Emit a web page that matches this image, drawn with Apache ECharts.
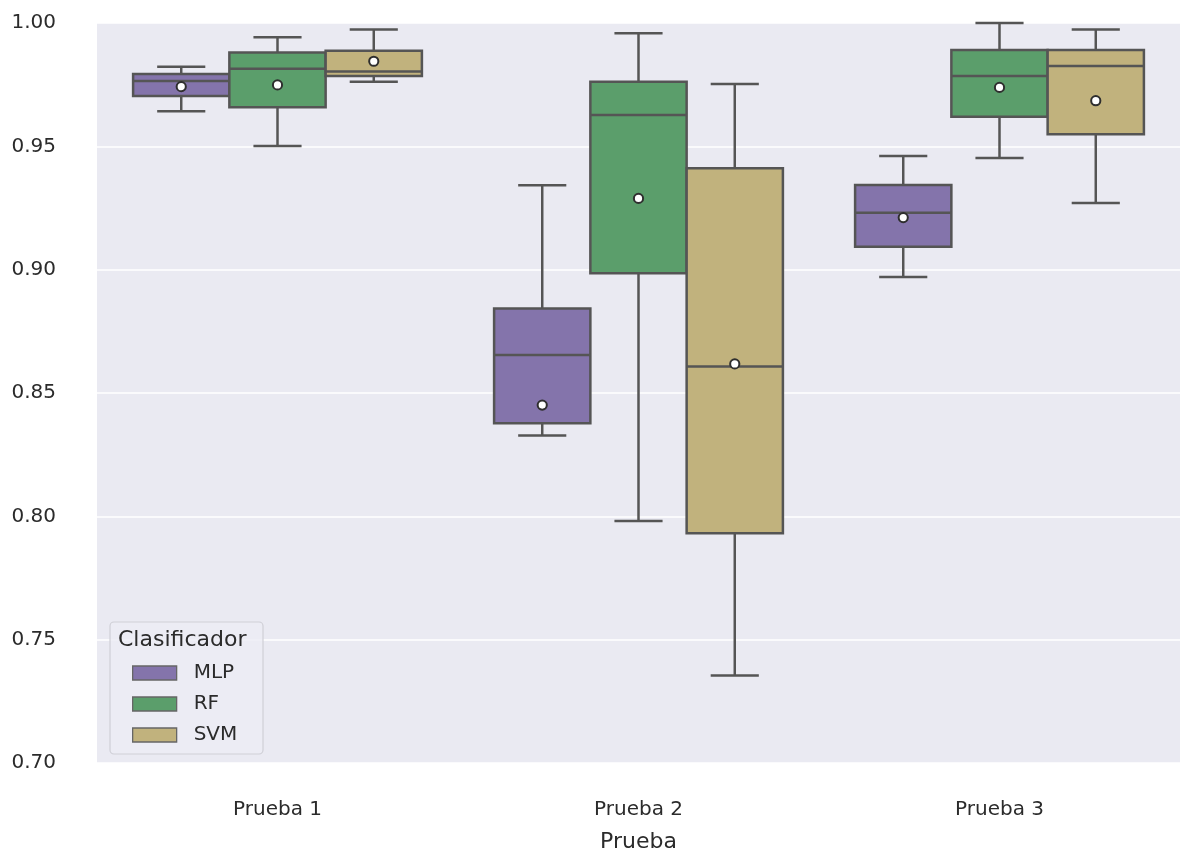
<!DOCTYPE html>
<html>
<head>
<meta charset="utf-8">
<title>Clasificador por prueba</title>
<script src="https://cdn.jsdelivr.net/npm/echarts@6/dist/echarts.min.js"></script>
<style>
  html, body { margin: 0; padding: 0; background: #ffffff; }
  #chart { width: 1181px; height: 850px; }
</style>
</head>
<body>
<div id="chart"></div>
<script>
// Test groups on the x axis and classifiers drawn side by side in each group
const categories = ['Prueba 1', 'Prueba 2', 'Prueba 3'];
const classifiers = ['MLP', 'RF', 'SVM'];
const classifierColors = ['#8474ab', '#5b9e6b', '#c1b27d'];

// Five-number summaries per test: [min, q1, median, q3, max]
const mlpStats = [
  [0.9642, 0.9704, 0.9765, 0.9793, 0.9823],
  [0.8328, 0.8377, 0.8654, 0.8843, 0.9342],
  [0.8970, 0.9093, 0.9231, 0.9343, 0.9461]
];
const rfStats = [
  [0.9501, 0.9658, 0.9815, 0.9880, 0.9942],
  [0.7981, 0.8985, 0.9627, 0.9762, 0.9958],
  [0.9453, 0.9620, 0.9785, 0.9891, 1.0000]
];
const svmStats = [
  [0.9762, 0.9785, 0.9803, 0.9888, 0.9974],
  [0.7355, 0.7931, 0.8607, 0.9411, 0.9753],
  [0.9270, 0.9549, 0.9826, 0.9891, 0.9974]
];

// Mean accuracy per test
const mlpMeans = [0.9742, 0.8451, 0.9211];
const rfMeans = [0.9749, 0.9289, 0.9739];
const svmMeans = [0.9845, 0.8618, 0.9685];

// Y axis ticks
const yTicks = [0.70, 0.75, 0.80, 0.85, 0.90, 0.95, 1.00];

const statsBySeries = [mlpStats, rfStats, svmStats];
const meansBySeries = [mlpMeans, rfMeans, svmMeans];

const EDGE = '#555555';
const TEXT = '#2b2b2b';
const FONT = 'DejaVu Sans';

function buildRows(stats, means) {
  return stats.map((s, i) => [i, s[0], s[1], s[2], s[3], s[4], means[i]]);
}

function renderBox(params, api) {
  const cat = api.value(0);
  const band = api.size([1, 0])[0];
  const boxW = band * 0.8 / classifiers.length;
  const cx = api.coord([cat, 0])[0] + (params.seriesIndex - 1) * boxW;
  const y = (i) => api.coord([cat, api.value(i)])[1];
  const yMin = y(1), yQ1 = y(2), yMed = y(3), yQ3 = y(4), yMax = y(5), yMean = y(6);
  const half = boxW / 2;
  const cap = boxW / 4;
  const lw = 2.5;
  const lineStyle = { stroke: EDGE, lineWidth: lw };
  const fill = api.visual('color');
  return {
    type: 'group',
    children: [
      { type: 'line', shape: { x1: cx, y1: yQ3, x2: cx, y2: yMax }, style: lineStyle },
      { type: 'line', shape: { x1: cx, y1: yQ1, x2: cx, y2: yMin }, style: lineStyle },
      { type: 'line', shape: { x1: cx - cap, y1: yMax, x2: cx + cap, y2: yMax }, style: lineStyle },
      { type: 'line', shape: { x1: cx - cap, y1: yMin, x2: cx + cap, y2: yMin }, style: lineStyle },
      { type: 'rect', shape: { x: cx - half, y: yQ3, width: boxW, height: yQ1 - yQ3 },
        style: { fill: fill, stroke: EDGE, lineWidth: lw } },
      { type: 'line', shape: { x1: cx - half, y1: yMed, x2: cx + half, y2: yMed }, style: lineStyle },
      { type: 'circle', shape: { cx: cx, cy: yMean, r: 4.6 },
        style: { fill: '#ffffff', stroke: '#2e2e2e', lineWidth: 2 } }
    ]
  };
}

const series = classifiers.map((name, k) => ({
  name: name,
  type: 'custom',
  renderItem: renderBox,
  itemStyle: { color: classifierColors[k] },
  encode: { x: 0, y: [1, 2, 3, 4, 5, 6] },
  data: buildRows(statsBySeries[k], meansBySeries[k]),
  z: 3
}));

const chart = echarts.init(document.getElementById('chart'), null, { renderer: 'canvas' });

chart.setOption({
  backgroundColor: '#ffffff',
  animation: false,
  textStyle: { fontFamily: FONT },
  grid: {
    left: 97, right: 1, top: 23, bottom: 87,
    show: true, backgroundColor: '#eaeaf2', borderWidth: 0,
    containLabel: false, outerBoundsMode: 'none'
  },
  xAxis: {
    type: 'category',
    data: categories,
    name: 'Prueba',
    nameLocation: 'middle',
    nameGap: 68,
    nameTextStyle: { fontSize: 22, color: TEXT, fontFamily: FONT },
    axisLine: { show: false },
    axisTick: { show: false },
    splitLine: { show: false },
    axisLabel: { fontSize: 20, color: TEXT, margin: 37, fontFamily: FONT }
  },
  yAxis: {
    type: 'value',
    min: yTicks[0],
    max: yTicks[yTicks.length - 1],
    interval: 0.05,
    axisLine: { show: false },
    axisTick: { show: false },
    splitLine: { show: true, lineStyle: { color: '#ffffff', width: 1.6 } },
    axisLabel: {
      fontSize: 20, color: TEXT, margin: 41, fontFamily: FONT,
      formatter: (v) => v.toFixed(2)
    }
  },
  legend: {
    orient: 'vertical',
    left: 132,
    top: 663,
    padding: 0,
    z: 60,
    zlevel: 0,
    itemWidth: 44,
    itemHeight: 14,
    itemGap: 11,
    selectedMode: false,
    textStyle: { fontSize: 20, color: TEXT, fontFamily: FONT, lineHeight: 20, padding: [0, 0, 0, 12] },
    data: classifiers.map((name, k) => ({
      name: name,
      icon: 'rect',
      itemStyle: { color: classifierColors[k], borderColor: '#666666', borderWidth: 1.3 }
    }))
  },
  graphic: [
    {
      type: 'rect',
      z: 20,
      shape: { x: 110, y: 622, width: 153, height: 132, r: 4 },
      style: { fill: 'rgba(236,236,244,0.85)', stroke: '#cfcfd6', lineWidth: 1.2 },
      silent: true
    },
    {
      type: 'text',
      z: 21,
      x: 118,
      y: 640,
      style: {
        text: 'Clasificador', fontSize: 22, fontFamily: FONT, fill: TEXT,
        verticalAlign: 'middle', align: 'left'
      },
      silent: true
    }
  ],
  series: series
});
</script>
</body>
</html>
